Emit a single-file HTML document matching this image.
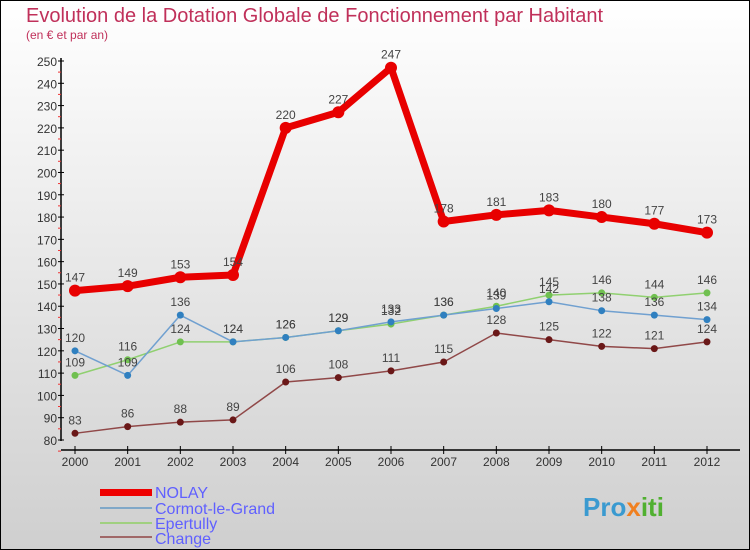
<!DOCTYPE html>
<html><head><meta charset="utf-8"><style>
body{margin:0;}
#c{width:750px;height:550px;position:relative;box-sizing:border-box;border:1px solid #000;background:linear-gradient(#ffffff,#cfcfcf);font-family:"Liberation Sans",sans-serif;overflow:hidden}
</style></head><body>
<div id="c">
<svg id="s" width="750" height="550" style="position:absolute;left:-1px;top:-1px">
<text x="26" y="22" font-size="20" fill="#c0305a">Evolution de la Dotation Globale de Fonctionnement par Habitant</text>
<text x="26" y="39" font-size="12" fill="#c0305a">(en € et par an)</text>
<g id="axes"></g><g id="series"></g>
<g>
<rect x="100" y="489" width="52" height="7" fill="#e00"/>
<text x="155" y="498" font-size="16" fill="#6060ff">NOLAY</text>
<rect x="100" y="507" width="52" height="2" fill="#80a8c8"/>
<text x="155" y="514" font-size="16" fill="#6060ff">Cormot-le-Grand</text>
<rect x="100" y="522" width="52" height="2" fill="#a0d080"/>
<text x="155" y="529" font-size="16" fill="#6060ff">Epertully</text>
<rect x="100" y="536" width="52" height="2" fill="#a06868"/>
<text x="155" y="544" font-size="16" fill="#6060ff">Change</text>
</g>
<text x="583" y="516" font-size="26" font-weight="bold" fill="#3a9ad0">Pro<tspan fill="#f08020">x</tspan><tspan fill="#50b030">iti</tspan></text>
</svg>
</div>
<script>
const years=[2000,2001,2002,2003,2004,2005,2006,2007,2008,2009,2010,2011,2012];
const nolay=[147,149,153,154,220,227,247,178,181,183,180,177,173];
const cormot=[120,109,136,124,126,129,133,136,139,142,138,136,134];
const epertully=[109,116,124,124,126,129,132,136,140,145,146,144,146];
const change=[83,86,88,89,106,108,111,115,128,125,122,121,124];
const yTicks=[80,90,100,110,120,130,140,150,160,170,180,190,200,210,220,230,240,250];
const NS="http://www.w3.org/2000/svg";
const xS=i=>75+i*(707-75)/(years.length-1);
const yS=v=>440-(v-80)*(440-61)/170;
function mk(t,a,p){const e=document.createElementNS(NS,t);for(const k in a)e.setAttribute(k,a[k]);p.appendChild(e);return e;}
const ax=document.getElementById('axes'),sr=document.getElementById('series');
const yl=mk('line',{x1:61,y1:58,x2:61,y2:441,stroke:'#000','stroke-width':1.5},ax);


const xl=mk('line',{x1:61,y1:450,x2:740,y2:450,stroke:'#000','stroke-width':1.5},ax);


yTicks.forEach(v=>{const y=yS(v);
mk('line',{x1:58,y1:y,x2:64,y2:y,stroke:'#000'},ax);
mk('line',{x1:58,y1:y+11.1,x2:61,y2:y+11.1,stroke:'#e33'},ax);
const t=mk('text',{x:57,y:y+5,'font-size':12,'text-anchor':'end',fill:'#333'},ax);t.textContent=v;

});
years.forEach((yr,i)=>{const x=xS(i);
mk('line',{x1:x,y1:446,x2:x,y2:454,stroke:'#000'},ax);
const t=mk('text',{x:x,y:466,'font-size':12,'text-anchor':'middle',fill:'#333'},ax);t.textContent=yr;

});
function draw(d,name,col,dot,w,r){
const p=mk('polyline',{points:d.map((v,i)=>xS(i)+','+yS(v)).join(' '),fill:'none',stroke:col,'stroke-width':w,'stroke-linejoin':'round'},sr);


d.forEach((v,i)=>{const c=mk('circle',{cx:xS(i),cy:yS(v),r:r,fill:dot},sr);


const t=mk('text',{x:xS(i),y:yS(v)-9,'font-size':12,'text-anchor':'middle',fill:'#444'},sr);t.textContent=v;

});}
draw(change,'change','#904848','#6a1818',1.5,3.5);
draw(epertully,'epertully','#90d070','#70c050',1.5,3.5);
draw(cormot,'cormot','#70a0d0','#3080c0',1.5,3.5);
draw(nolay,'nolay','#e80000','#e80000',7,6);
</script>
</body></html>
